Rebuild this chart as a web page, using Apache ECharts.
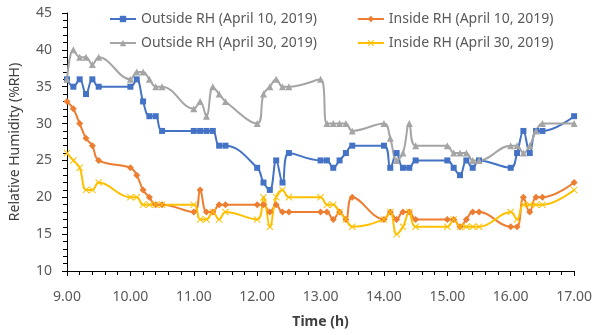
<!DOCTYPE html>
<html>
<head>
<meta charset="utf-8">
<script src="https://cdn.jsdelivr.net/npm/echarts@6/dist/echarts.min.js"></script>
<style>
  html, body { margin: 0; padding: 0; background: #fff; }
  #chart { width: 595px; height: 335px; }
</style>
</head>
<body>
<div id="chart"></div>
<script>
  // times are written as hour.minutes (9.10 = 9:10), plotted as decimals
  var times = [
    9.0, 9.1, 9.2, 9.3, 9.4, 9.5,
    10.0, 10.1, 10.2, 10.3, 10.4, 10.5,
    11.0, 11.1, 11.2, 11.3, 11.4, 11.5,
    12.0, 12.1, 12.2, 12.3, 12.4, 12.5,
    13.0, 13.1, 13.2, 13.3, 13.4, 13.5,
    14.0, 14.1, 14.2, 14.3, 14.4, 14.5,
    15.0, 15.1, 15.2, 15.3, 15.4, 15.5,
    16.0, 16.1, 16.2, 16.3, 16.4, 16.5,
    17.0
  ];
  var outsideApr10 = [
    36, 35, 36, 34, 36, 35,
    35, 36, 33, 31, 31, 29,
    29, 29, 29, 29, 27, 27,
    24, 22, 21, 25, 22, 26,
    25, 25, 24, 25, 26, 27,
    27, 24, 26, 24, 24, 25,
    25, 24, 23, 25, 24, 25,
    24, 26, 29, 26, 29, 29,
    31
  ];
  var insideApr10 = [
    33, 32, 30, 28, 27, 25,
    24, 23, 21, 20, 19, 19,
    18, 21, 18, 18, 19, 19,
    19, 19, 18, 19, 18, 18,
    18, 18, 17, 18, 17, 20,
    17, 18, 17, 18, 18, 17,
    17, 17, 16, 17, 18, 18,
    16, 16, 20, 18, 20, 20,
    22
  ];
  var outsideApr30 = [
    36, 40, 39, 39, 38, 39,
    36, 37, 37, 36, 35, 35,
    32, 33, 31, 35, 34, 33,
    30, 34, 35, 36, 35, 35,
    36, 30, 30, 30, 30, 29,
    30, 28, 25, 26, 30, 27,
    27, 26, 26, 26, 25, 25,
    27, 27, 26, 27, 29, 30,
    30
  ];
  var insideApr30 = [
    26, 25, 24, 21, 21, 22,
    20, 20, 19, 19, 19, 19,
    19, 17, 17, 18, 17, 18,
    17, 20, 16, 20, 21, 20,
    20, 19, 19, 18, 17, 16,
    17, 18, 15, 16, 18, 16,
    16, 17, 16, 16, 16, 16,
    18, 17, 19, 19, 19, 19,
    21
  ];
  var xTicks = [9, 10, 11, 12, 13, 14, 15, 16, 17];
  var yTicks = [10, 15, 20, 25, 30, 35, 40, 45];

  function pairs(vals) {
    return times.map(function (t, i) { return [t, vals[i]]; });
  }

  var font = "'Noto Sans', sans-serif";
  var xMark = 'path://M0,1L1,0L5,4L9,0L10,1L6,5L10,9L9,10L5,6L1,10L0,9L4,5Z';

  function line(name, vals, color, symbol, size) {
    return {
      name: name,
      type: 'line',
      data: pairs(vals),
      smooth: 0.4,
      symbol: symbol,
      symbolSize: size,
      showAllSymbol: true,
      lineStyle: { color: color, width: 2 },
      itemStyle: { color: color },
      emphasis: { disabled: true }
    };
  }

  var legendText = { fontFamily: font, fontSize: 14, color: '#595959' };

  var chart = echarts.init(document.getElementById('chart'));
  chart.setOption({
    animation: false,
    backgroundColor: '#fff',
    textStyle: { fontFamily: font },
    grid: { left: 67, right: 18, top: 13, bottom: 64 },
    legend: [{
      left: 104, top: 7, itemWidth: 26, itemHeight: 8, itemGap: 40,
      data: ['Outside RH (April 10, 2019)', 'Inside RH (April 10, 2019)'],
      textStyle: legendText
    }, {
      left: 104, top: 31, itemWidth: 26, itemHeight: 8, itemGap: 40,
      data: ['Outside RH (April 30, 2019)', 'Inside RH (April 30, 2019)'],
      textStyle: legendText
    }],
    xAxis: {
      type: 'value',
      min: xTicks[0], max: xTicks[xTicks.length - 1], interval: 1,
      name: 'Time (h)', nameLocation: 'middle', nameGap: 44,
      nameTextStyle: { fontFamily: font, fontSize: 14, fontWeight: 'bold', color: '#404040' },
      axisLine: { lineStyle: { color: '#000', width: 1 } },
      axisTick: { length: 5, lineStyle: { color: '#000' } },
      minorTick: { show: true, splitNumber: 5, length: 4, lineStyle: { color: '#000' } },
      splitLine: { show: false },
      axisLabel: { fontSize: 14, color: '#595959', margin: 19, formatter: function (v) { return v.toFixed(2); } }
    },
    yAxis: {
      type: 'value',
      min: yTicks[0], max: yTicks[yTicks.length - 1], interval: 5,
      name: 'Relative Humidity (%RH)', nameLocation: 'middle', nameGap: 45,
      nameTextStyle: { fontFamily: font, fontSize: 14, color: '#404040' },
      axisLine: { show: true, lineStyle: { color: '#000', width: 1 } },
      axisTick: { show: true, length: 5, lineStyle: { color: '#000' } },
      minorTick: { show: true, splitNumber: 5, length: 4, lineStyle: { color: '#000' } },
      splitLine: { show: false },
      axisLabel: { fontSize: 14, color: '#595959', margin: 15 }
    },
    series: [
      line('Outside RH (April 10, 2019)', outsideApr10, '#4472C4', 'rect', 6),
      line('Inside RH (April 10, 2019)', insideApr10, '#ED7D31', 'diamond', 7),
      line('Outside RH (April 30, 2019)', outsideApr30, '#A5A5A5', 'triangle', 7),
      line('Inside RH (April 30, 2019)', insideApr30, '#FFC000', xMark, 7)
    ]
  });
</script>
</body>
</html>
